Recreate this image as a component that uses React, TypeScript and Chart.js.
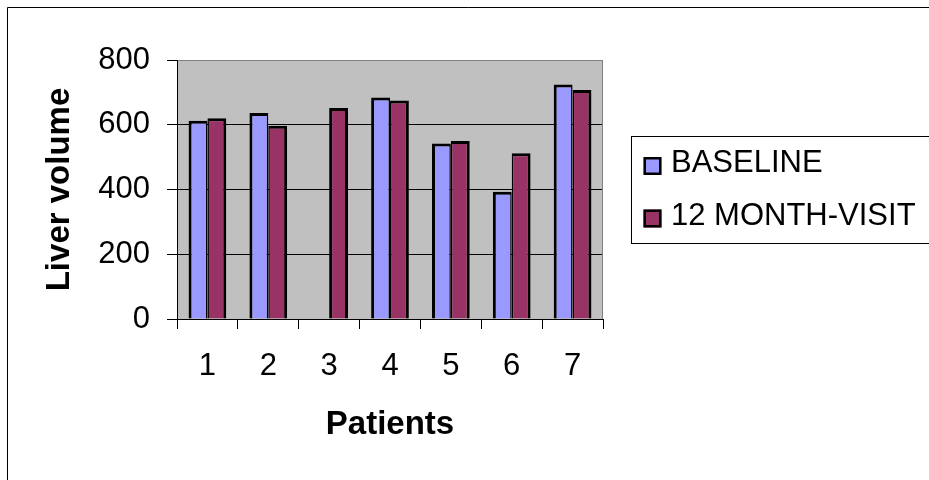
import React, { useEffect, useRef } from "react";
import { Chart, registerables } from "chart.js";

Chart.register(...registerables);

const categories = ["1", "2", "3", "4", "5", "6", "7"];
const baseline = [612, 636, null, 684, 542, 393, 724];
const month12 = [620, 597, 652, 675, 550, 512, 707];
const yTickValues = [0, 200, 400, 600, 800];
const seriesNames = ["BASELINE", "12 MONTH-VISIT"];
const axisTitles = { x: "Patients", y: "Liver volume" };

const FONT = "'Liberation Sans', Arial, sans-serif";

const framePlugin = {
  id: "frame",
  beforeDraw(chart: any) {
    const { ctx, chartArea: a } = chart;
    ctx.save();
    ctx.fillStyle = "#ffffff";
    ctx.fillRect(0, 0, chart.width, chart.height);
    ctx.fillStyle = "#C0C0C0";
    ctx.fillRect(a.left, a.top, a.right - a.left, a.bottom - a.top);
    ctx.strokeStyle = "#000000";
    ctx.lineWidth = 1;
    ctx.beginPath();
    ctx.moveTo(7.5, chart.height);
    ctx.lineTo(7.5, 7.5);
    ctx.lineTo(chart.width, 7.5);
    ctx.stroke();
    ctx.restore();
  },
  beforeDatasetsDraw(chart: any) {
    const { ctx, chartArea: a } = chart;
    ctx.save();
    ctx.strokeStyle = "#808080";
    ctx.lineWidth = 1;
    const x = Math.round(a.right) - 0.5;
    ctx.beginPath();
    ctx.moveTo(x, a.top);
    ctx.lineTo(x, a.bottom);
    ctx.stroke();
    ctx.restore();
  },
  afterDraw(chart: any) {
    const { ctx } = chart;
    ctx.save();
    ctx.strokeStyle = "#000000";
    ctx.lineWidth = 1;
    ctx.strokeRect(631.5, 136.5, 400, 107);
    const rows = [166, 218.5];
    chart.data.datasets.forEach((ds: any, i: number) => {
      const cy = rows[i];
      ctx.fillStyle = ds.backgroundColor;
      ctx.fillRect(643.5, cy - 9, 18, 18);
      ctx.lineWidth = 2.5;
      ctx.strokeStyle = "#000000";
      ctx.strokeRect(644.75, cy - 7.75, 15.5, 15.5);
      ctx.fillStyle = "#000000";
      ctx.font = `31px ${FONT}`;
      ctx.textBaseline = "middle";
      ctx.textAlign = "left";
      ctx.fillText(ds.label, 671, cy - 2.5);
    });
    ctx.restore();
  },
};

function zeroPad(s: any) {
  s.paddingTop = 0;
  s.paddingBottom = 0;
  s.paddingLeft = 0;
  s.paddingRight = 0;
}

export default function App() {
  const ref = useRef<HTMLCanvasElement | null>(null);

  useEffect(() => {
    if (!ref.current) return;
    const chart = new Chart(ref.current, {
      type: "bar",
      data: {
        labels: categories,
        datasets: [
          {
            label: seriesNames[0],
            data: baseline as any,
            backgroundColor: "#9999FF",
            borderColor: "#000000",
            borderWidth: { top: 3, left: 3, right: 1.5, bottom: 0 } as any,
            categoryPercentage: 0.62,
            barPercentage: 1,
          },
          {
            label: seriesNames[1],
            data: month12,
            backgroundColor: "#993366",
            borderColor: "#000000",
            borderWidth: ((c: any) => ({
              top: 3,
              right: 3,
              bottom: 0,
              left: baseline[c.dataIndex] == null ? 3 : 1.5,
            })) as any,
            categoryPercentage: 0.62,
            barPercentage: 1,
          },
        ],
      },
      options: {
        responsive: false,
        animation: false,
        devicePixelRatio: 1,
        layout: { padding: { left: 0, top: 60, right: 326, bottom: 0 } },
        plugins: {
          legend: { display: false },
          tooltip: { enabled: false },
        },
        scales: {
          x: {
            offset: true,
            grid: {
              offset: true,
              drawOnChartArea: false,
              tickLength: 10,
              tickColor: "#000000",
              color: "#000000",
            },
            border: { color: "#000000" },
            ticks: {
              padding: 18.4,
              color: "#000000",
              font: { family: FONT, size: 31 },
              maxRotation: 0,
              autoSkip: false,
            },
            title: {
              display: true,
              text: axisTitles.x,
              color: "#000000",
              font: { family: FONT, size: 33, weight: "bold" },
              padding: { top: 0, bottom: 35.6 },
            },
            afterFit(s: any) {
              s.height = 161;
              zeroPad(s);
            },
          },
          y: {
            min: 0,
            max: 800,
            afterBuildTicks(s: any) {
              s.ticks = yTickValues.map((v) => ({ value: v }));
            },
            ticks: {
              padding: 17,
              color: "#000000",
              font: { family: FONT, size: 31 },
            },
            grid: {
              color: (c: any) =>
                c.tick && c.tick.value === 800 ? "#808080" : "#000000",
              tickColor: "#000000",
              tickLength: 10,
              lineWidth: 1,
            },
            border: { color: "#000000" },
            title: {
              display: true,
              text: axisTitles.y,
              color: "#000000",
              font: { family: FONT, size: 33, weight: "bold" },
              padding: { top: 40.5, bottom: 0 },
            },
            afterFit(s: any) {
              s.width = 177;
              zeroPad(s);
            },
          },
        },
      },
      plugins: [framePlugin],
    });
    return () => chart.destroy();
  }, []);

  return (
    <div
      style={{
        position: "fixed",
        left: 0,
        top: 0,
        width: 929,
        height: 480,
        background: "#fff",
      }}
    >
      <canvas ref={ref} width={929} height={480} />
    </div>
  );
}
